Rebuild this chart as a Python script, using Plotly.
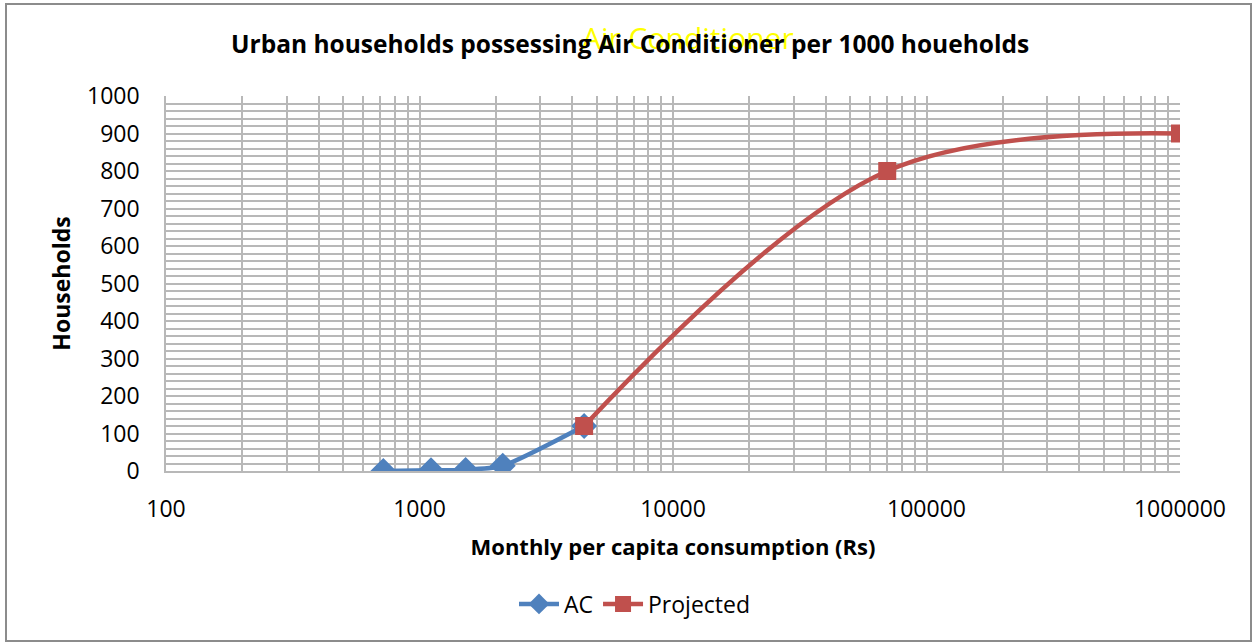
import plotly.graph_objects as go

ac_x = [720, 1110, 1520, 2130, 4460]
ac_y = [0, 2, 3, 14, 120]
proj_x = [4460, 70000, 1000000]
proj_y = [120, 800, 900]
y_ticks = [0, 100, 200, 300, 400, 500, 600, 700, 800, 900, 1000]
x_ticks = [100, 1000, 10000, 100000, 1000000]

FONT = "Open Sans"
GRID = "#b8b8b8"

fig = go.Figure()
fig.add_trace(go.Scatter(
    x=ac_x, y=ac_y, name="AC", mode="lines+markers",
    line=dict(color="#4F81BD", width=4.5, shape="spline", smoothing=0.6),
    marker=dict(symbol="diamond", size=20, color="#4F81BD"),
))
fig.add_trace(go.Scatter(
    x=proj_x, y=proj_y, name="Projected", mode="lines+markers",
    line=dict(color="#C0504D", width=4.5, shape="spline", smoothing=1.0),
    marker=dict(symbol="square", size=18, color="#C0504D"),
))

L, R, T, B = 166, 73, 96, 173
W, H = 1253, 644
pw, ph = W - L - R, H - T - B

fig.update_layout(
    width=W, height=H,
    margin=dict(l=L, r=R, t=T, b=B),
    paper_bgcolor="white", plot_bgcolor="white",
    font=dict(family=FONT, size=23, color="black"),
    showlegend=True,
    legend=dict(orientation="h", x=(635 - L) / pw, xanchor="center",
                y=-(604 - T - ph) / ph, yanchor="middle",
                font=dict(size=23), itemwidth=40),
    annotations=[
        dict(text="Air Conditioner", x=(688 - L) / pw, y=1 + (T - 38) / ph,
             xref="paper", yref="paper", showarrow=False,
             font=dict(family=FONT, size=30, color="#FFFF00"), xanchor="center", yanchor="middle"),
        dict(text="<b>Urban households possessing Air Conditioner per 1000 houeholds</b>",
             x=(630 - L) / pw, y=1 + (T - 44) / ph,
             xref="paper", yref="paper", showarrow=False,
             font=dict(family=FONT, size=24.5, color="black"), xanchor="center", yanchor="middle"),
    ],
    shapes=[
        dict(type="rect", xref="paper", yref="paper",
             x0=(6 - L) / pw, x1=(1251 - L) / pw,
             y0=-(641 - T - ph) / ph, y1=1 + (T - 4) / ph,
             line=dict(color="#8c8c8c", width=2), fillcolor="rgba(0,0,0,0)", layer="below"),
    ],
)

fig.update_xaxes(
    type="log", range=[2, 6],
    tickvals=x_ticks, ticktext=[str(v) for v in x_ticks],
    showgrid=True, gridcolor=GRID, gridwidth=1.5,
    minor=dict(showgrid=True, gridcolor=GRID, gridwidth=1.5, dtick="D1"),
    showline=True, linecolor=GRID, linewidth=1.5,
    ticks="", tickfont=dict(size=23), ticklabelstandoff=17,
    title=dict(text="<b>Monthly per capita consumption (Rs)</b>", font=dict(size=22), standoff=16),
    zeroline=False,
)
fig.update_yaxes(
    range=[0, 1000],
    tickvals=y_ticks,
    showgrid=True, gridcolor=GRID, gridwidth=1.5,
    minor=dict(showgrid=True, gridcolor=GRID, gridwidth=1.5, dtick=20),
    showline=True, linecolor=GRID, linewidth=1.5,
    ticks="", tickfont=dict(size=23), ticklabelstandoff=20,
    title=dict(text="<b>Households</b>", font=dict(size=23), standoff=10),
    zeroline=False,
)

fig.write_html("out.html", config={"displayModeBar": False},
               post_script="document.body.style.margin='0';")
